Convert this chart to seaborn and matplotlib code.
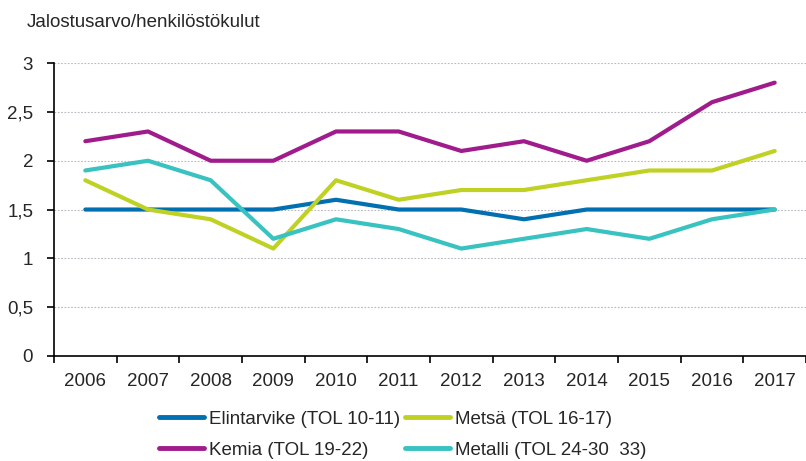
import pandas as pd
import numpy as np
import seaborn as sns
import matplotlib.pyplot as plt
from matplotlib.ticker import FuncFormatter, FixedLocator

years = [2006, 2007, 2008, 2009, 2010, 2011, 2012, 2013, 2014, 2015, 2016, 2017]
elintarvike = [1.5, 1.5, 1.5, 1.5, 1.6, 1.5, 1.5, 1.4, 1.5, 1.5, 1.5, 1.5]
metsa = [1.8, 1.5, 1.4, 1.1, 1.8, 1.6, 1.7, 1.7, 1.8, 1.9, 1.9, 2.1]
kemia = [2.2, 2.3, 2.0, 2.0, 2.3, 2.3, 2.1, 2.2, 2.0, 2.2, 2.6, 2.8]
metalli = [1.9, 2.0, 1.8, 1.2, 1.4, 1.3, 1.1, 1.2, 1.3, 1.2, 1.4, 1.5]

series = ["Elintarvike (TOL 10-11)", "Metsä (TOL 16-17)",
          "Kemia (TOL 19-22)", "Metalli (TOL 24-30  33)"]
colors = ["#0070b0", "#bfd224", "#a01c8c", "#38c2c0"]

df = pd.DataFrame({
    "pos": list(range(len(years))) * 4,
    "arvo": elintarvike + metsa + kemia + metalli,
    "sarja": np.repeat(series, len(years)),
})

sns.set_style("white")
plt.rcParams['font.family'] = ['Liberation Sans', 'DejaVu Sans']
fs = 13.5

fig = plt.figure(figsize=(8.06, 4.61), dpi=100)
ax = fig.add_axes([0.067, 0.228, 0.933, 0.635])

sns.lineplot(data=df, x="pos", y="arvo", hue="sarja", hue_order=series,
             palette=colors, linewidth=3, ax=ax, legend=False)

ax.set_xlim(-0.5, len(years) - 0.5)
ax.set_ylim(0, 3)
ax.set_yticks(np.arange(0, 3.01, 0.5))
ax.yaxis.set_major_formatter(FuncFormatter(lambda v, p: f"{v:g}".replace(".", ",")))
ax.yaxis.grid(True, linestyle=(0, (1.5, 1.5)), color="#b8b8c0", linewidth=0.8)

# year labels centred, ticks between categories
ax.set_xticks(range(len(years)))
ax.set_xticklabels(years)
ax.tick_params(axis="x", which="major", length=0, pad=12, labelsize=fs)
ax.xaxis.set_minor_locator(FixedLocator(np.arange(-0.5, len(years), 1)))
ax.tick_params(axis="x", which="minor", bottom=True, length=5, width=1.2,
               color="black", direction="out")
ax.tick_params(axis="y", left=True, length=5, width=1.2, color="black",
               direction="out", labelsize=fs, pad=10)

for s in ["top", "right"]:
    ax.spines[s].set_visible(False)
for s in ["left", "bottom"]:
    ax.spines[s].set_color("black")
    ax.spines[s].set_linewidth(1.2)
ax.set_xlabel("")
ax.set_ylabel("")

fig.text(0.033, 0.952, "Jalostusarvo/henkilöstökulut", fontsize=fs, va="center", ha="left")

# legend filled row by row: matplotlib fills by column, so reorder
order = [0, 2, 1, 3]
handles = [plt.Line2D([], [], color=colors[i], linewidth=3.5) for i in order]
labels = [series[i] for i in order]
fig.legend(handles, labels, loc="center", bbox_to_anchor=(0.5, 0.057), ncol=2,
           frameon=False, fontsize=fs, handlelength=2.4, handletextpad=0.27,
           columnspacing=0.27, labelspacing=0.75)

fig.savefig("out.png", dpi=100)
